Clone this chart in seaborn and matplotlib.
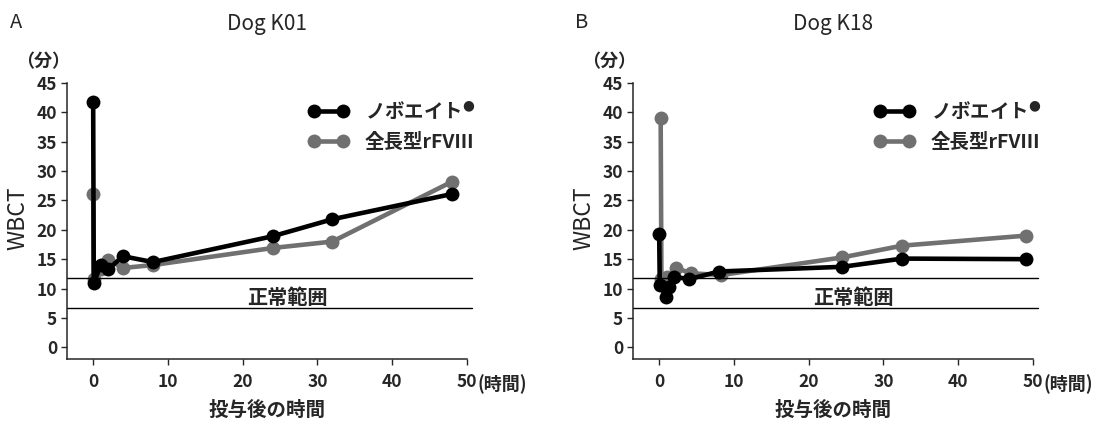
import numpy as np
import pandas as pd
import matplotlib
matplotlib.use("Agg")
import matplotlib.pyplot as plt
import seaborn as sns
from matplotlib.lines import Line2D

# data (WBCT in minutes vs hours after dosing)
panels = ["Dog K01", "Dog K18"]
panel_letters = ["A", "B"]
drugs = ["ノボエイト$^{\u25CF}$", "全長型rFVIII"]

k01_novo_time = [0, 0.08, 1, 2, 4, 8, 24, 32, 48]
k01_novo_wbct = [41.8, 10.9, 14.0, 13.3, 15.5, 14.5, 18.9, 21.8, 26.1]
k01_full_time = [0, 0.08, 1, 2, 4, 8, 24, 32, 48]
k01_full_wbct = [26.1, 11.7, 13.3, 14.9, 13.5, 14.0, 16.9, 18.0, 28.2]

k18_novo_time = [0, 0.08, 0.9, 1.3, 2, 4, 8, 24.5, 32.5, 49]
k18_novo_wbct = [19.3, 10.6, 8.6, 10.3, 12.0, 11.6, 12.9, 13.7, 15.1, 15.0]
k18_full_time = [0.2, 0.3, 1, 2.3, 4.2, 8.3, 24.5, 32.5, 49]
k18_full_wbct = [39.1, 11.7, 11.9, 13.5, 12.6, 12.3, 15.3, 17.3, 19.0]

normal_range = [6.6, 11.8]
normal_label = "正常範囲"
y_ticks = [0, 5, 10, 15, 20, 25, 30, 35, 40, 45]
x_ticks = [0, 10, 20, 30, 40, 50]

colors = {drugs[0]: "#000000", drugs[1]: "#707070"}

sns.set_style("ticks")
plt.rcParams["font.family"] = ["Noto Sans CJK JP", "DejaVu Sans"]
plt.rcParams["mathtext.fontset"] = "dejavusans"

fig = plt.figure(figsize=(11.13, 4.23), dpi=100)
W, H = 1113, 423
ax_left_px = [67, 633]
ax_w_px = 400
ax_bottom_px = 359
ax_top_px = 83

series = [
    [(k01_novo_time, k01_novo_wbct), (k01_full_time, k01_full_wbct)],
    [(k18_novo_time, k18_novo_wbct), (k18_full_time, k18_full_wbct)],
]

for i, title in enumerate(panels):
    ax = fig.add_axes([ax_left_px[i] / W, 1 - ax_bottom_px / H,
                       ax_w_px / W, (ax_bottom_px - ax_top_px) / H])
    # grey first, black on top
    for j in [1, 0]:
        t, v = series[i][j]
        df = pd.DataFrame({"time": t, "wbct": v})
        sns.lineplot(data=df, x="time", y="wbct", ax=ax, sort=False,
                     estimator=None, color=colors[drugs[j]], lw=3.3,
                     marker="o", markersize=10, markeredgewidth=0,
                     zorder=3 if j == 0 else 2)

    for y in normal_range:
        ax.axhline(y, xmin=0, xmax=1.012, color="black", lw=1.0, clip_on=False)
    ax.text(26, 8.5, normal_label, ha="center", va="center",
            fontsize=14.5, fontweight="bold")

    ax.set_xlim(-3.5, 50)
    ax.set_ylim(-2, 45)
    ax.set_xticks(x_ticks)
    ax.set_yticks(y_ticks)
    ax.tick_params(direction="out", length=4, width=1, labelsize=12.5, pad=3)
    ax.tick_params(axis="x", pad=6)
    for lab in ax.get_xticklabels() + ax.get_yticklabels():
        lab.set_fontweight("bold")
    for s in ["left", "bottom"]:
        ax.spines[s].set_linewidth(1.1)
    sns.despine(ax=ax)

    ax.set_xlabel("投与後の時間", fontsize=14, fontweight="bold")
    ax.xaxis.set_label_coords(0.5, -0.15)
    ax.set_ylabel("WBCT", fontsize=16.5)
    ax.yaxis.set_label_coords(-0.095, 0.51)

    ax.text(0.5, 1.215, title, transform=ax.transAxes, ha="center",
            va="center", fontsize=15)
    ax.annotate("(時間)", xy=(1, 0), xycoords="axes fraction",
                xytext=(7.5, -18), textcoords="offset points",
                ha="left", va="center", fontsize=13, fontweight="bold")
    ax.annotate("（分）", xy=(0, 1), xycoords="axes fraction",
                xytext=(-17, 15), textcoords="offset points",
                ha="center", va="center", fontsize=13, fontweight="bold")
    fig.text((ax_left_px[i] - 51) / W, 1 - 22 / H, panel_letters[i],
             ha="center", va="center", fontsize=14.5)

    handles = [Line2D([], [], color=colors[d], lw=3.3, marker="o",
                      markersize=10, markeredgewidth=0) for d in drugs]
    ax.legend(handles, drugs, loc="upper left", bbox_to_anchor=(0.56, 1.0),
              frameon=False, numpoints=2, handlelength=2.05, handletextpad=0.85,
              labelspacing=0.6, prop={"size": 14, "weight": "bold"})

fig.savefig("out.png", dpi=100)
